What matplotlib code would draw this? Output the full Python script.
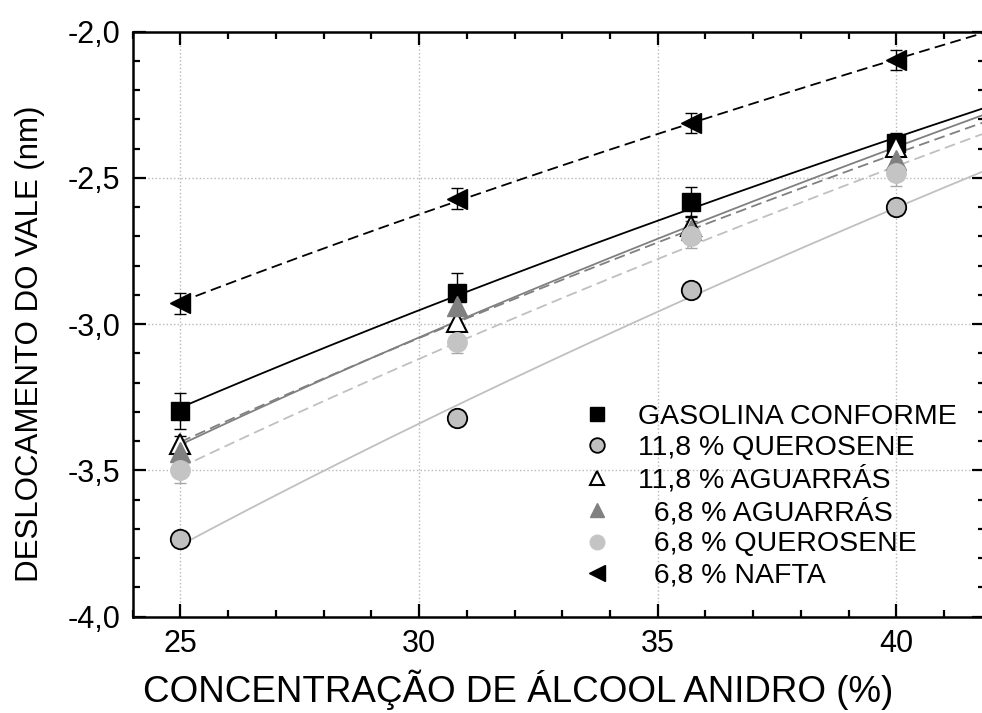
import numpy as np
import matplotlib
matplotlib.use("Agg")
import matplotlib.pyplot as plt
from matplotlib.ticker import MultipleLocator, FuncFormatter

plt.rcParams['font.family'] = ['Liberation Sans', 'DejaVu Sans']

# ---------------- data ----------------
conc = [25.0, 30.8, 35.7, 40.0]

labels = ["GASOLINA CONFORME", "11,8 % QUEROSENE", "11,8 % AGUARRÁS",
          "  6,8 % AGUARRÁS", "  6,8 % QUEROSENE", "  6,8 % NAFTA"]

gasolina = [-3.296, -2.895, -2.581, -2.382]
querosene_118 = [-3.736, -3.322, -2.883, -2.600]
aguarras_118 = [-3.411, -2.992, -2.663, -2.393]
aguarras_68 = [-3.436, -2.937, -2.678, -2.439]
querosene_68 = [-3.500, -3.060, -2.700, -2.484]
nafta_68 = [-2.929, -2.571, -2.313, -2.097]

err_gasolina = [0.062, 0.070, 0.050, 0.035]
err_querosene_118 = [0.015, 0.015, 0.020, 0.020]
err_aguarras_118 = [0.030, 0.030, 0.030, 0.030]
err_aguarras_68 = [0.030, 0.030, 0.030, 0.030]
err_querosene_68 = [0.045, 0.040, 0.040, 0.045]
err_nafta_68 = [0.035, 0.035, 0.035, 0.035]

xticks_major = [25, 30, 35, 40]
yticks_major = [-4.0, -3.5, -3.0, -2.5, -2.0]

series = [gasolina, querosene_118, aguarras_118, aguarras_68, querosene_68, nafta_68]
errors = [err_gasolina, err_querosene_118, err_aguarras_118, err_aguarras_68,
          err_querosene_68, err_nafta_68]

# ---------------- styles ----------------
styles = [
    dict(marker='s', mfc='black', mec='black', ms=13, mew=1.0),
    dict(marker='o', mfc='#c0c0c0', mec='black', ms=14, mew=1.3),
    dict(marker='^', mfc='white', mec='black', ms=14, mew=1.5),
    dict(marker='^', mfc='#808080', mec='#808080', ms=14, mew=1.0),
    dict(marker='o', mfc='#c4c4c4', mec='#c4c4c4', ms=14, mew=1.0),
    dict(marker='<', mfc='black', mec='black', ms=15, mew=1.0),
]
line_colors = ['black', '#c0c0c0', '#808080', '#808080', '#c0c0c0', 'black']
line_dashed = [False, False, False, True, True, True]
err_colors = ['black', 'black', 'black', '#606060', '#a8a8a8', 'black']

W, H = 982, 713
fig = plt.figure(figsize=(W / 100, H / 100), dpi=100)
ax_left, ax_right, ax_top, ax_bottom = 132.7, 984.7, 31.7, 616.5
ax = fig.add_axes([ax_left / W, 1 - ax_bottom / H,
                   (ax_right - ax_left) / W, (ax_bottom - ax_top) / H])

ax.set_xlim(24.0, 41.85)
ax.set_ylim(-4.0, -2.0)

# fitted curves (least squares in sqrt(x))
xfit = np.linspace(25, 42.5, 200)
for ys, col, dashed in zip(series, line_colors, line_dashed):
    b, a = np.polyfit(np.sqrt(conc), ys, 1)
    yf = a + b * np.sqrt(xfit)
    if dashed:
        ax.plot(xfit, yf, color=col, lw=1.3, dashes=(6, 3), zorder=2)
    else:
        ax.plot(xfit, yf, color=col, lw=1.3, zorder=2)

handles = []
for ys, es, st, ec, lab in zip(series, errors, styles, err_colors, labels):
    ax.errorbar(conc, ys, yerr=es, fmt='none', ecolor=ec, elinewidth=1.0,
                capsize=4.5, capthick=1.0, zorder=3)
    h, = ax.plot(conc, ys, linestyle='none', label=lab, zorder=4, **st)
    handles.append(h)

# axes formatting
ax.xaxis.set_major_locator(matplotlib.ticker.FixedLocator(xticks_major))
ax.xaxis.set_minor_locator(MultipleLocator(1))
ax.yaxis.set_major_locator(matplotlib.ticker.FixedLocator(yticks_major))
ax.yaxis.set_minor_locator(MultipleLocator(0.1))
ax.yaxis.set_major_formatter(FuncFormatter(lambda v, p: f"{v:.1f}".replace('.', ',')))

ax.tick_params(which='both', direction='in', top=True, right=True, width=1.6)
ax.tick_params(which='major', length=9.5, labelsize=22, pad=9)
ax.tick_params(which='minor', length=5)
for sp in ax.spines.values():
    sp.set_linewidth(1.8)

ax.grid(True, which='major', linestyle=':', color='#b8b8b8', lw=1.0)
ax.set_axisbelow(True)

ax.set_xlabel("CONCENTRAÇÃO DE ÁLCOOL ANIDRO (%)", fontsize=26.5)
ax.xaxis.set_label_coords((518 - ax_left) / (ax_right - ax_left),
                          (ax_bottom - 690) / (ax_bottom - ax_top))
ax.xaxis.label.set_va('center')
ax.set_ylabel("DESLOCAMENTO DO VALE (nm)", fontsize=22.5)
ax.yaxis.set_label_coords((30 - ax_left) / (ax_right - ax_left),
                          (ax_bottom - 344) / (ax_bottom - ax_top))
ax.yaxis.label.set_va('center')

leg = ax.legend(handles=handles, loc='upper left',
                bbox_to_anchor=(582.5 / W, 1 - 404 / H),
                bbox_transform=fig.transFigure, frameon=False,
                fontsize=20.5, markerscale=0.75, handlelength=1.0,
                handletextpad=0.95, labelspacing=0.18, borderpad=0,
                borderaxespad=0)

fig.savefig("out.png", dpi=100)
